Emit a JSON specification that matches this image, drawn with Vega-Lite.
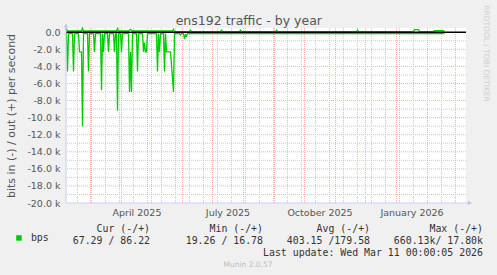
{
  "$schema": "https://vega.github.io/schema/vega-lite/v6.json",
  "autosize": {"type": "none"},
  "width": 400,
  "height": 175,
  "padding": {"left": 66, "top": 28, "right": 31, "bottom": 72},
  "background": "#F0F0F0",
  "config": {"view": {"fill": "#FFFFFF", "stroke": null}},
  "title": {"text": "Munin 2.0.57", "orient": "bottom", "anchor": "middle", "frame": "group", "dx": -18, "offset": 4, "font": "DejaVu Sans", "fontSize": 7.5, "fontWeight": "normal", "color": "#BDBDBD"},
  "resolve": {"axis": {"x": "independent", "y": "independent"}},
  "layer": [
    {
      "data": {"values": [
        {"t": "2025-02-16T00:00"}, {"t": "2025-03-02T00:00"}, {"t": "2025-03-16T00:00"}, {"t": "2025-03-30T00:00"},
        {"t": "2025-04-13T00:00"}, {"t": "2025-04-27T00:00"}, {"t": "2025-05-11T00:00"}, {"t": "2025-05-25T00:00"},
        {"t": "2025-06-08T00:00"}, {"t": "2025-06-22T00:00"}, {"t": "2025-07-06T00:00"}, {"t": "2025-07-20T00:00"},
        {"t": "2025-08-03T00:00"}, {"t": "2025-08-17T00:00"}, {"t": "2025-08-31T00:00"}, {"t": "2025-09-14T00:00"},
        {"t": "2025-09-28T00:00"}, {"t": "2025-10-12T00:00"}, {"t": "2025-10-26T00:00"}, {"t": "2025-11-09T00:00"},
        {"t": "2025-11-23T00:00"}, {"t": "2025-12-07T00:00"}, {"t": "2025-12-21T00:00"}, {"t": "2026-01-04T00:00"},
        {"t": "2026-01-18T00:00"}, {"t": "2026-02-01T00:00"}, {"t": "2026-02-15T00:00"}, {"t": "2026-03-01T00:00"}
      ]},
      "mark": {"type": "rule", "color": "#C8C8C8", "strokeWidth": 1, "strokeDash": [1, 1]},
      "encoding": {
        "x": {"field": "t", "type": "temporal", "scale": {"domain": [{"year": 2025, "month": 2, "date": 4, "hours": 12}, {"year": 2026, "month": 3, "date": 11, "hours": 12}]}, "axis": null}
      }
    },
    {
      "data": {"values": [
        {"t": "2025-03-01T00:00"}, {"t": "2025-04-01T00:00"}, {"t": "2025-05-01T00:00"}, {"t": "2025-06-01T00:00"},
        {"t": "2025-07-01T00:00"}, {"t": "2025-08-01T00:00"}, {"t": "2025-09-01T00:00"}, {"t": "2025-10-01T00:00"},
        {"t": "2025-11-01T00:00"}, {"t": "2025-12-01T00:00"}, {"t": "2026-01-01T00:00"}, {"t": "2026-02-01T00:00"},
        {"t": "2026-03-01T00:00"}
      ]},
      "mark": {"type": "rule", "color": "#F5B0B0", "strokeWidth": 1, "strokeDash": [1, 1]},
      "encoding": {
        "x": {"field": "t", "type": "temporal", "scale": {"domain": [{"year": 2025, "month": 2, "date": 4, "hours": 12}, {"year": 2026, "month": 3, "date": 11, "hours": 12}]},
          "axis": {"orient": "top", "labels": false, "ticks": false, "domain": false, "grid": false,
            "title": "ens192 traffic - by year", "titleFont": "DejaVu Sans", "titleFontSize": 12.5, "titleFontWeight": "normal", "titleColor": "#555555",
            "titleX": 182.3, "titleY": -4, "titleAlign": "center", "titleBaseline": "alphabetic", "titleAngle": 0}}
      }
    },
    {
      "data": {"values": [
        {"v": -1000}, {"v": -3000}, {"v": -5000}, {"v": -7000}, {"v": -9000},
        {"v": -11000}, {"v": -13000}, {"v": -15000}, {"v": -17000}, {"v": -19000}
      ]},
      "mark": {"type": "rule", "color": "#C8C8C8", "strokeWidth": 1, "strokeDash": [1, 1]},
      "encoding": {
        "y": {"field": "v", "type": "quantitative", "scale": {"domain": [-20000, 500], "nice": false}, "axis": null}
      }
    },
    {
      "data": {"values": [
        {"v": -2000}, {"v": -4000}, {"v": -6000}, {"v": -8000}, {"v": -10000},
        {"v": -12000}, {"v": -14000}, {"v": -16000}, {"v": -18000}
      ]},
      "mark": {"type": "rule", "color": "#F5B0B0", "strokeWidth": 1, "strokeDash": [1, 1]},
      "encoding": {
        "y": {"field": "v", "type": "quantitative", "scale": {"domain": [-20000, 500], "nice": false},
          "axis": {"orient": "right", "labels": false, "ticks": false, "domain": false, "grid": false,
            "title": "RRDTOOL / TOBI OETIKER", "titleFont": "DejaVu Sans", "titleFontSize": 7.5, "titleFontWeight": "normal", "titleColor": "#CFCFCF",
            "titleAngle": 90, "titleX": 19, "titleY": 25, "titleAlign": "center", "titleBaseline": "middle"}}
      }
    },
    {
      "data": {"values": [
        {"t": "2025-02-04T00:00", "v": -150, "dir": "in"},
        {"t": "2025-02-05T00:00", "v": -150, "dir": "in"},
        {"t": "2025-02-06T00:00", "v": -4600, "dir": "in"},
        {"t": "2025-02-07T00:00", "v": -150, "dir": "in"},
        {"t": "2025-02-11T00:00", "v": -150, "dir": "in"},
        {"t": "2025-02-12T00:00", "v": -4600, "dir": "in"},
        {"t": "2025-02-13T00:00", "v": -150, "dir": "in"},
        {"t": "2025-02-17T00:00", "v": -150, "dir": "in"},
        {"t": "2025-02-18T00:00", "v": -2300, "dir": "in"},
        {"t": "2025-02-20T00:00", "v": -2300, "dir": "in"},
        {"t": "2025-02-21T00:00", "v": -11000, "dir": "in"},
        {"t": "2025-02-22T00:00", "v": -150, "dir": "in"},
        {"t": "2025-02-26T00:00", "v": -150, "dir": "in"},
        {"t": "2025-02-27T00:00", "v": -4600, "dir": "in"},
        {"t": "2025-02-28T00:00", "v": -150, "dir": "in"},
        {"t": "2025-03-04T00:00", "v": -150, "dir": "in"},
        {"t": "2025-03-05T00:00", "v": -2300, "dir": "in"},
        {"t": "2025-03-06T00:00", "v": -150, "dir": "in"},
        {"t": "2025-03-11T00:00", "v": -150, "dir": "in"},
        {"t": "2025-03-12T00:00", "v": -6800, "dir": "in"},
        {"t": "2025-03-13T00:00", "v": -150, "dir": "in"},
        {"t": "2025-03-14T00:00", "v": -2300, "dir": "in"},
        {"t": "2025-03-15T00:00", "v": -150, "dir": "in"},
        {"t": "2025-03-18T00:00", "v": -150, "dir": "in"},
        {"t": "2025-03-19T00:00", "v": -2300, "dir": "in"},
        {"t": "2025-03-20T00:00", "v": -150, "dir": "in"},
        {"t": "2025-03-24T00:00", "v": -150, "dir": "in"},
        {"t": "2025-03-25T00:00", "v": -2300, "dir": "in"},
        {"t": "2025-03-26T00:00", "v": -150, "dir": "in"},
        {"t": "2025-03-27T00:00", "v": -150, "dir": "in"},
        {"t": "2025-03-28T00:00", "v": -9200, "dir": "in"},
        {"t": "2025-03-29T00:00", "v": -150, "dir": "in"},
        {"t": "2025-03-31T00:00", "v": -150, "dir": "in"},
        {"t": "2025-04-01T00:00", "v": -2300, "dir": "in"},
        {"t": "2025-04-02T00:00", "v": -150, "dir": "in"},
        {"t": "2025-04-08T00:00", "v": -150, "dir": "in"},
        {"t": "2025-04-09T00:00", "v": -7000, "dir": "in"},
        {"t": "2025-04-10T00:00", "v": -2300, "dir": "in"},
        {"t": "2025-04-11T00:00", "v": -7000, "dir": "in"},
        {"t": "2025-04-12T00:00", "v": -150, "dir": "in"},
        {"t": "2025-04-16T00:00", "v": -150, "dir": "in"},
        {"t": "2025-04-17T00:00", "v": -4600, "dir": "in"},
        {"t": "2025-04-18T00:00", "v": -150, "dir": "in"},
        {"t": "2025-04-22T00:00", "v": -150, "dir": "in"},
        {"t": "2025-04-23T00:00", "v": -2300, "dir": "in"},
        {"t": "2025-04-24T00:00", "v": -1200, "dir": "in"},
        {"t": "2025-04-25T00:00", "v": -2300, "dir": "in"},
        {"t": "2025-04-26T00:00", "v": -2300, "dir": "in"},
        {"t": "2025-04-27T00:00", "v": -150, "dir": "in"},
        {"t": "2025-05-06T00:00", "v": -150, "dir": "in"},
        {"t": "2025-05-07T00:00", "v": -4600, "dir": "in"},
        {"t": "2025-05-08T00:00", "v": -150, "dir": "in"},
        {"t": "2025-05-09T00:00", "v": -2300, "dir": "in"},
        {"t": "2025-05-10T00:00", "v": -150, "dir": "in"},
        {"t": "2025-05-13T00:00", "v": -150, "dir": "in"},
        {"t": "2025-05-14T00:00", "v": -4600, "dir": "in"},
        {"t": "2025-05-15T00:00", "v": -150, "dir": "in"},
        {"t": "2025-05-16T00:00", "v": -2300, "dir": "in"},
        {"t": "2025-05-20T00:00", "v": -2300, "dir": "in"},
        {"t": "2025-05-23T00:00", "v": -7000, "dir": "in"},
        {"t": "2025-05-24T00:00", "v": -150, "dir": "in"},
        {"t": "2025-05-29T00:00", "v": -150, "dir": "in"},
        {"t": "2025-05-30T00:00", "v": -300, "dir": "in"},
        {"t": "2025-05-31T00:00", "v": -150, "dir": "in"},
        {"t": "2025-06-02T00:00", "v": -150, "dir": "in"},
        {"t": "2025-06-03T00:00", "v": -800, "dir": "in"},
        {"t": "2025-06-04T00:00", "v": -300, "dir": "in"},
        {"t": "2025-06-05T00:00", "v": -450, "dir": "in"},
        {"t": "2025-06-06T00:00", "v": -150, "dir": "in"},
        {"t": "2026-02-18T00:00", "v": -150, "dir": "in"},
        {"t": "2025-02-04T00:00", "v": 300, "dir": "out"},
        {"t": "2025-02-05T00:00", "v": 400, "dir": "out"},
        {"t": "2025-02-06T00:00", "v": 150, "dir": "out"},
        {"t": "2025-02-20T00:00", "v": 150, "dir": "out"},
        {"t": "2025-02-21T00:00", "v": 480, "dir": "out"},
        {"t": "2025-02-22T00:00", "v": 150, "dir": "out"},
        {"t": "2025-03-27T00:00", "v": 150, "dir": "out"},
        {"t": "2025-03-28T00:00", "v": 450, "dir": "out"},
        {"t": "2025-03-29T00:00", "v": 150, "dir": "out"},
        {"t": "2025-04-08T00:00", "v": 150, "dir": "out"},
        {"t": "2025-04-10T00:00", "v": 350, "dir": "out"},
        {"t": "2025-04-12T00:00", "v": 150, "dir": "out"},
        {"t": "2025-05-22T00:00", "v": 150, "dir": "out"},
        {"t": "2025-05-23T00:00", "v": 350, "dir": "out"},
        {"t": "2025-05-24T00:00", "v": 100, "dir": "out"},
        {"t": "2025-06-08T00:00", "v": 80, "dir": "out"},
        {"t": "2025-06-09T00:00", "v": 250, "dir": "out"},
        {"t": "2025-06-10T00:00", "v": 80, "dir": "out"},
        {"t": "2025-07-09T00:00", "v": 80, "dir": "out"},
        {"t": "2025-07-10T00:00", "v": 250, "dir": "out"},
        {"t": "2025-07-11T00:00", "v": 80, "dir": "out"},
        {"t": "2025-07-28T00:00", "v": 80, "dir": "out"},
        {"t": "2025-07-29T00:00", "v": 250, "dir": "out"},
        {"t": "2025-07-30T00:00", "v": 80, "dir": "out"},
        {"t": "2025-09-02T00:00", "v": 80, "dir": "out"},
        {"t": "2025-09-03T00:00", "v": 250, "dir": "out"},
        {"t": "2025-09-04T00:00", "v": 80, "dir": "out"},
        {"t": "2025-11-22T00:00", "v": 80, "dir": "out"},
        {"t": "2025-11-23T00:00", "v": 250, "dir": "out"},
        {"t": "2025-11-24T00:00", "v": 80, "dir": "out"},
        {"t": "2026-01-18T00:00", "v": 80, "dir": "out"},
        {"t": "2026-01-19T00:00", "v": 300, "dir": "out"},
        {"t": "2026-01-23T00:00", "v": 300, "dir": "out"},
        {"t": "2026-01-24T00:00", "v": 80, "dir": "out"},
        {"t": "2026-02-07T00:00", "v": 80, "dir": "out"},
        {"t": "2026-02-08T00:00", "v": 180, "dir": "out"},
        {"t": "2026-02-18T00:00", "v": 180, "dir": "out"}
      ]},
      "mark": {"type": "line", "strokeWidth": 1.3, "interpolate": "linear"},
      "encoding": {
        "x": {"field": "t", "type": "temporal", "scale": {"domain": [{"year": 2025, "month": 2, "date": 4, "hours": 12}, {"year": 2026, "month": 3, "date": 11, "hours": 12}]},
          "axis": {"orient": "bottom", "values": [{"year": 2025, "month": 4, "date": 16}, {"year": 2025, "month": 7, "date": 16}, {"year": 2025, "month": 10, "date": 16}, {"year": 2026, "month": 1, "date": 16}],
            "format": "%B %Y", "labelFont": "DejaVu Sans", "labelFontSize": 9.5, "labelColor": "#555555", "labelFlush": false, "labelOverlap": false,
            "ticks": false, "tickSize": 0, "domain": false, "grid": false, "labelPadding": 4,
            "title": [
              "Cur\u00a0(-/+)\u00a0\u00a0\u00a0\u00a0\u00a0\u00a0\u00a0\u00a0\u00a0\u00a0Min\u00a0(-/+)\u00a0\u00a0\u00a0\u00a0\u00a0\u00a0\u00a0\u00a0\u00a0Avg\u00a0(-/+)\u00a0\u00a0\u00a0\u00a0\u00a0\u00a0\u00a0\u00a0\u00a0\u00a0Max\u00a0(-/+)\u00a0",
              "67.29\u00a0/\u00a086.22\u00a0\u00a0\u00a0\u00a0\u00a0\u00a019.26\u00a0/\u00a016.78\u00a0\u00a0\u00a0\u00a0403.15\u00a0/179.58\u00a0\u00a0\u00a0\u00a0660.13k/\u00a017.80k",
              "Last\u00a0update:\u00a0Wed\u00a0Mar\u00a011\u00a000:00:05\u00a02026"
            ],
            "titleFont": "DejaVu Sans Mono", "titleFontSize": 9.9, "titleFontWeight": "normal", "titleColor": "#333333",
            "titleX": 416.5, "titleY": 28, "titleAlign": "right", "titleBaseline": "alphabetic", "titleLineHeight": 12, "titleAngle": 0}},
        "y": {"field": "v", "type": "quantitative", "scale": {"domain": [-20000, 500], "nice": false},
          "axis": {"orient": "left", "values": [0, -2000, -4000, -6000, -8000, -10000, -12000, -14000, -16000, -18000, -20000],
            "labelExpr": "datum.value == 0 ? '0.0' : '-' + format(-datum.value / 1000, '.1f') + ' k'",
            "labelFont": "DejaVu Sans", "labelFontSize": 9.5, "labelColor": "#555555", "ticks": false, "tickSize": 0, "domain": false, "grid": false, "labelPadding": 6,
            "title": "bits in (-) / out (+) per second", "titleFont": "DejaVu Sans", "titleFontSize": 11, "titleFontWeight": "normal", "titleColor": "#555555",
            "titleX": -55, "titleY": 87.5, "titleAngle": 270, "titleAlign": "center", "titleBaseline": "middle"}},
        "detail": {"field": "dir", "type": "nominal"},
        "color": {"datum": "bps", "type": "nominal", "scale": {"domain": ["bps"], "range": ["#00CC00"]},
          "legend": {"orient": "none", "legendX": -52, "legendY": 205, "title": null, "symbolType": "square", "symbolSize": 30,
            "labelFont": "DejaVu Sans Mono", "labelFontSize": 9.9, "labelColor": "#333333", "labelOffset": 7, "padding": 0,
            "symbolStrokeWidth": 0, "symbolFillColor": "#00CC00",
            "encode": {"symbols": {"update": {"fill": {"value": "#00CC00"}, "stroke": {"value": "#00CC00"}, "strokeWidth": {"value": 0}, "opacity": {"value": 1}}}}}}
      }
    },
    {
      "data": {"values": [{}]},
      "mark": {"type": "rule", "color": "#000000", "strokeWidth": 1.5},
      "encoding": {
        "y": {"datum": 0, "type": "quantitative", "scale": {"domain": [-20000, 500], "nice": false}, "axis": null}
      }
    },
    {
      "data": {"values": [{}]},
      "mark": {"type": "rule", "color": "#C8CCF4", "strokeWidth": 1},
      "encoding": {
        "x": {"datum": {"year": 2025, "month": 2, "date": 4, "hours": 12}, "type": "temporal", "scale": {"domain": [{"year": 2025, "month": 2, "date": 4, "hours": 12}, {"year": 2026, "month": 3, "date": 11, "hours": 12}]}, "axis": null},
        "y": {"datum": -20000, "type": "quantitative", "scale": {"domain": [-20000, 500], "nice": false}, "axis": null},
        "y2": {"datum": 900}
      }
    },
    {
      "data": {"values": [{}]},
      "mark": {"type": "rule", "color": "#C8CCF4", "strokeWidth": 1},
      "encoding": {
        "x": {"datum": {"year": 2025, "month": 2, "date": 4, "hours": 12}, "type": "temporal", "scale": {"domain": [{"year": 2025, "month": 2, "date": 4, "hours": 12}, {"year": 2026, "month": 3, "date": 11, "hours": 12}]}, "axis": null},
        "x2": {"datum": {"year": 2026, "month": 3, "date": 15, "hours": 12}},
        "y": {"datum": -20000, "type": "quantitative", "scale": {"domain": [-20000, 500], "nice": false}, "axis": null}
      }
    },
    {
      "data": {"values": [{}]},
      "mark": {"type": "point", "shape": "triangle-up", "filled": true, "color": "#C0C6F2", "size": 22, "opacity": 1},
      "encoding": {
        "x": {"datum": {"year": 2025, "month": 2, "date": 4, "hours": 12}, "type": "temporal", "scale": {"domain": [{"year": 2025, "month": 2, "date": 4, "hours": 12}, {"year": 2026, "month": 3, "date": 11, "hours": 12}]}, "axis": null},
        "y": {"datum": 800, "type": "quantitative", "scale": {"domain": [-20000, 500], "nice": false}, "axis": null}
      }
    },
    {
      "data": {"values": [{}]},
      "mark": {"type": "point", "shape": "triangle-right", "filled": true, "color": "#C0C6F2", "size": 22, "opacity": 1},
      "encoding": {
        "x": {"datum": {"year": 2026, "month": 3, "date": 15, "hours": 12}, "type": "temporal", "scale": {"domain": [{"year": 2025, "month": 2, "date": 4, "hours": 12}, {"year": 2026, "month": 3, "date": 11, "hours": 12}]}, "axis": null},
        "y": {"datum": -20000, "type": "quantitative", "scale": {"domain": [-20000, 500], "nice": false}, "axis": null}
      }
    }
  ]
}
